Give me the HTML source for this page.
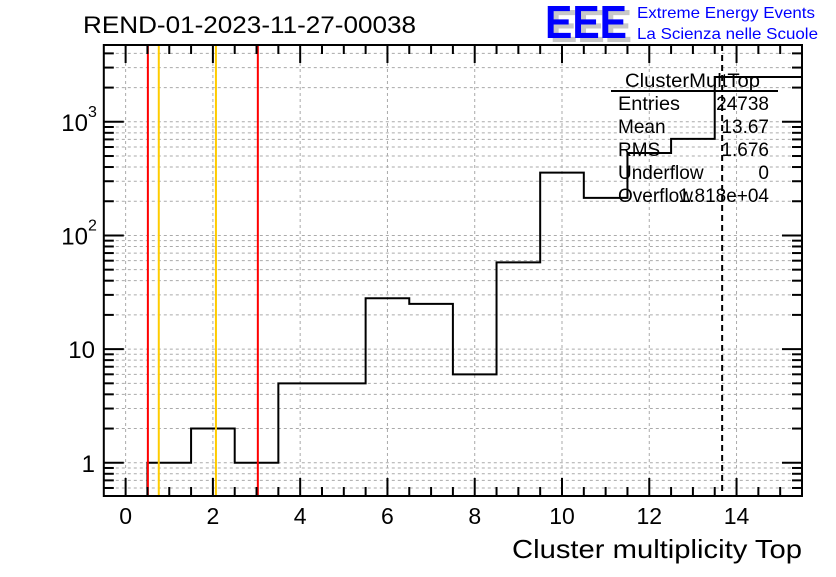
<!DOCTYPE html>
<html><head><meta charset="utf-8"><style>
body{margin:0;background:#fff;}
svg text{font-family:"Liberation Sans",sans-serif;}
</style></head><body>
<svg id="c" width="836" height="572" xmlns="http://www.w3.org/2000/svg">
<rect width="836" height="572" fill="#fff"/>
<g id="grid"></g>
<g id="marks"></g>
<g id="axes"></g>
<text x="83" y="33" font-size="24" textLength="333" lengthAdjust="spacingAndGlyphs">REND-01-2023-11-27-00038</text>
<g>
<text x="550" y="42" font-size="46" font-weight="bold" fill="#c8c8c8" textLength="82" lengthAdjust="spacingAndGlyphs">EEE</text>
<text x="545" y="38" font-size="46" font-weight="bold" fill="#0000ff" textLength="82" lengthAdjust="spacingAndGlyphs">EEE</text>
<text x="637" y="18" font-size="16" fill="#0000ff" textLength="178" lengthAdjust="spacingAndGlyphs">Extreme Energy Events</text>
<text x="637" y="39" font-size="16" fill="#0000ff" textLength="181" lengthAdjust="spacingAndGlyphs">La Scienza nelle Scuole</text>
</g>
<text x="512" y="558" font-size="26" textLength="290" lengthAdjust="spacingAndGlyphs">Cluster multiplicity Top</text>
<g id="stats" font-size="19">
<text x="625" y="87" textLength="135" lengthAdjust="spacingAndGlyphs">ClusterMultTop</text>
<line x1="611" y1="91" x2="778" y2="91" stroke="#000" stroke-width="2"/>
<text x="618" y="110" textLength="62" lengthAdjust="spacingAndGlyphs">Entries</text><text x="769" y="110" text-anchor="end">24738</text>
<text x="618" y="133">Mean</text><text x="769" y="133" text-anchor="end">13.67</text>
<text x="618" y="156">RMS</text><text x="769" y="156" text-anchor="end">1.676</text>
<text x="618" y="179">Underflow</text><text x="769" y="179" text-anchor="end">0</text>
<text x="618" y="202">Overflow</text><text x="769" y="202" text-anchor="end">1.818e+04</text>
</g>
</svg>
<script>
const binLow = [-0.5,0.5,1.5,2.5,3.5,4.5,5.5,6.5,7.5,8.5,9.5,10.5,11.5,12.5,13.5,14.5];
const counts = [0,1,2,1,5,5,28,25,6,58,357,214,532,707,2480,2480];
const redLines = [0.51,3.03];
const yellowLines = [0.76,2.07];
const meanValue = 13.67;
const xTicks = [0,2,4,6,8,10,12,14];
const yDecades = [1,10,100,1000];
const yLabels = ["1","10","10^2","10^3"];

const L=103.8,R=802,T=45,B=496,X0=-0.5,X1=15.5,Y0=0.51,Y1=4740;
const NS="http://www.w3.org/2000/svg";
function x(v){return L+(v-X0)/(X1-X0)*(R-L);}
function y(v){return B-(Math.log10(v)-Math.log10(Y0))/(Math.log10(Y1)-Math.log10(Y0))*(B-T);}
function mk(p,tag,a){const e=document.createElementNS(NS,tag);for(const k in a)e.setAttribute(k,a[k]);p.appendChild(e);return e;}
const grid=document.getElementById('grid'),marks=document.getElementById('marks'),axes=document.getElementById('axes');
for(const t of xTicks){const g=mk(grid,'line',{x1:x(t),x2:x(t),y1:T,y2:B,stroke:'#aaa','stroke-dasharray':'3,3'});
}
for(const d of yDecades){for(let m=1;m<10;m++){const v=d*m;if(v<Y0||v>Y1)continue;
const g=mk(grid,'line',{x1:L,x2:R,y1:y(v),y2:y(v),stroke:'#aaa','stroke-dasharray':'3,3'});
}}
for(const m of [0.6,0.7,0.8,0.9]){mk(grid,'line',{x1:L,x2:R,y1:y(m),y2:y(m),stroke:'#aaa','stroke-dasharray':'3,3'});}
let d='';
for(let i=0;i<counts.length;i++){const yy=counts[i]>0?y(counts[i]):B;const x0=x(binLow[i]),x1=x(binLow[i]+1);
d+=(i==0?'M'+x0+','+yy:'L'+x0+','+yy)+' L'+x1+','+yy+' ';}
const h=mk(marks,'path',{d:d,fill:'none',stroke:'#000','stroke-width':2});

for(const v of redLines){const l=mk(marks,'line',{x1:x(v),x2:x(v),y1:T,y2:B,stroke:'#ff0000','stroke-width':2});
}
for(const v of yellowLines){const l=mk(marks,'line',{x1:x(v),x2:x(v),y1:T,y2:B,stroke:'#ffcc00','stroke-width':2});
}
const ml=mk(marks,'line',{x1:x(meanValue),x2:x(meanValue),y1:T,y2:B,stroke:'#000','stroke-width':2,'stroke-dasharray':'6,4'});

const fr=mk(axes,'rect',{x:L,y:T,width:R-L,height:B-T,fill:'none',stroke:'#000','stroke-width':2});

for(let v=0;v<=15;v+=0.5){const maj=Math.abs(v%2)<1e-9;const len=maj?18:9;
mk(axes,'line',{x1:x(v),x2:x(v),y1:B,y2:B-len,stroke:'#000','stroke-width':2});
mk(axes,'line',{x1:x(v),x2:x(v),y1:T,y2:T+len,stroke:'#000','stroke-width':2});}
for(const t of xTicks){const tx=mk(axes,'text',{x:x(t),y:524,'font-size':23,'text-anchor':'middle'});tx.textContent=t;
}
for(const dd of yDecades.concat([0.1])){for(let m=1;m<10;m++){const v=dd*m;if(v<Y0||v>Y1)continue;const len=m==1?20:10;
mk(axes,'line',{x1:L,x2:L+len,y1:y(v),y2:y(v),stroke:'#000','stroke-width':2});
mk(axes,'line',{x1:R,x2:R-len,y1:y(v),y2:y(v),stroke:'#000','stroke-width':2});}}
yDecades.forEach((v,i)=>{const lab=yLabels[i];const tx=mk(axes,'text',{x:95,y:y(v)+9,'font-size':24,'text-anchor':'end'});

if(lab.includes('^')){const [b,e]=lab.split('^');tx.setAttribute('x',88);tx.textContent=b;
const s=mk(axes,'text',{x:88,y:y(v)-5,'font-size':16});s.textContent=e;}else tx.textContent=lab;});
</script>
</body></html>
